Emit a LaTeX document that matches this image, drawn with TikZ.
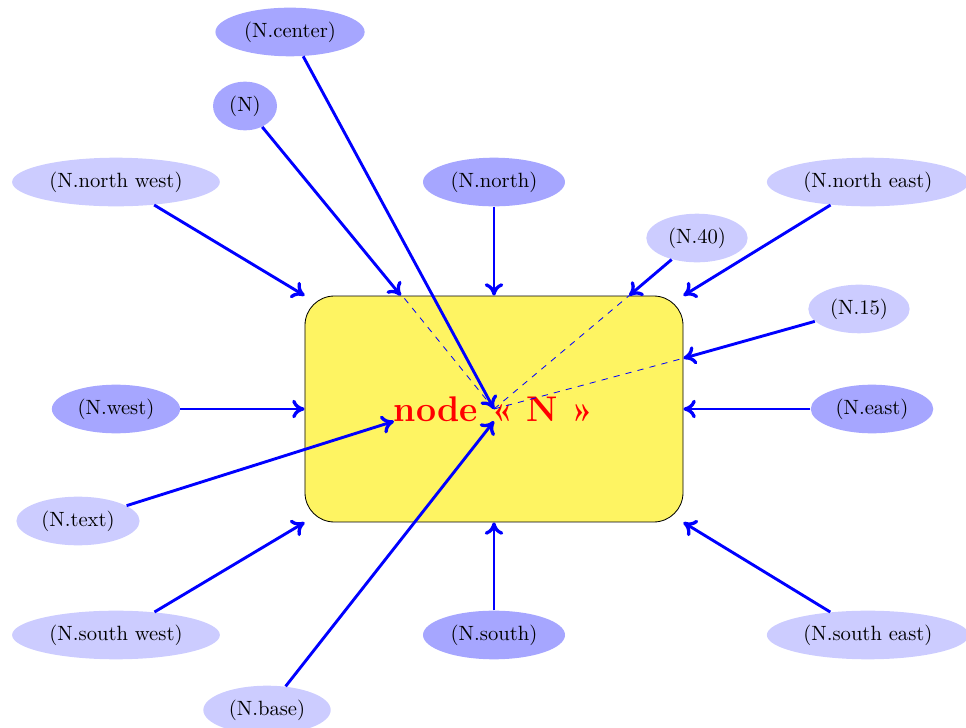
\documentclass[tikz,border=0pt]{standalone}
\usetikzlibrary{shapes.geometric,arrows.meta}
\definecolor{nodefill}{RGB}{254,244,98}
\tikzset{
  lab/.style={ellipse, fill=blue!20},
  labd/.style={ellipse, fill=blue!35},
  arr/.style={-{To[length=6pt,width=9pt,line width=1.6pt]}, line width=1.4pt, blue},
  dsh/.style={dashed, blue},
}
\begin{document}
\begin{tikzpicture}
\useasboundingbox (-8.416,-5.434) rectangle (8.041,6.968);
\node[draw, fill=nodefill, rounded corners=0.5cm, minimum width=6.44cm, minimum height=3.85cm,
      font=\LARGE\bfseries, text=red] (N) at (0,0) {node « N »};

\node[labd] (lc) at (-3.475,6.423) {(N.center)};
\node[labd] (lN) at (-4.242,5.162) {(N)};
\node[lab]  (lnw) at (-6.44,3.867) {(N.north west)};
\node[labd] (ln) at (0,3.867) {(N.north)};
\node[lab]  (lne) at (6.37,3.867) {(N.north east)};
\node[lab]  (l40) at (3.458,2.913) {(N.40)};
\node[lab]  (l15) at (6.218,1.704) {(N.15)};
\node[labd] (lw) at (-6.44,0) {(N.west)};
\node[labd] (le) at (6.44,0) {(N.east)};
\node[lab]  (lt) at (-7.087,-1.908) {(N.text)};
\node[lab]  (lsw) at (-6.44,-3.85) {(N.south west)};
\node[labd] (ls) at (0,-3.85) {(N.south)};
\node[lab]  (lse) at (6.37,-3.85) {(N.south east)};
\node[lab]  (lb) at (-3.867,-5.128) {(N.base)};

\draw[dsh] (N.center) -- (N.129.41);
\draw[dsh] (N.center) -- (N.40);
\draw[dsh] (N.center) -- (N.15);

\draw[arr] (lc) -- (N.center);
\draw[arr] (lN) -- (N);
\draw[arr] (lnw) -- (N.north west);
\draw[arr] (ln) -- (N.north);
\draw[arr] (lne) -- (N.north east);
\draw[arr] (l40) -- (N.40);
\draw[arr] (l15) -- (N.15);
\draw[arr] (lw) -- (N.west);
\draw[arr] (le) -- (N.east);
\draw[arr] (lt) -- (N.text);
\draw[arr] (lsw) -- (N.south west);
\draw[arr] (ls) -- (N.south);
\draw[arr] (lse) -- (N.south east);
\draw[arr] (lb) -- (N.base);
\end{tikzpicture}
\end{document}
